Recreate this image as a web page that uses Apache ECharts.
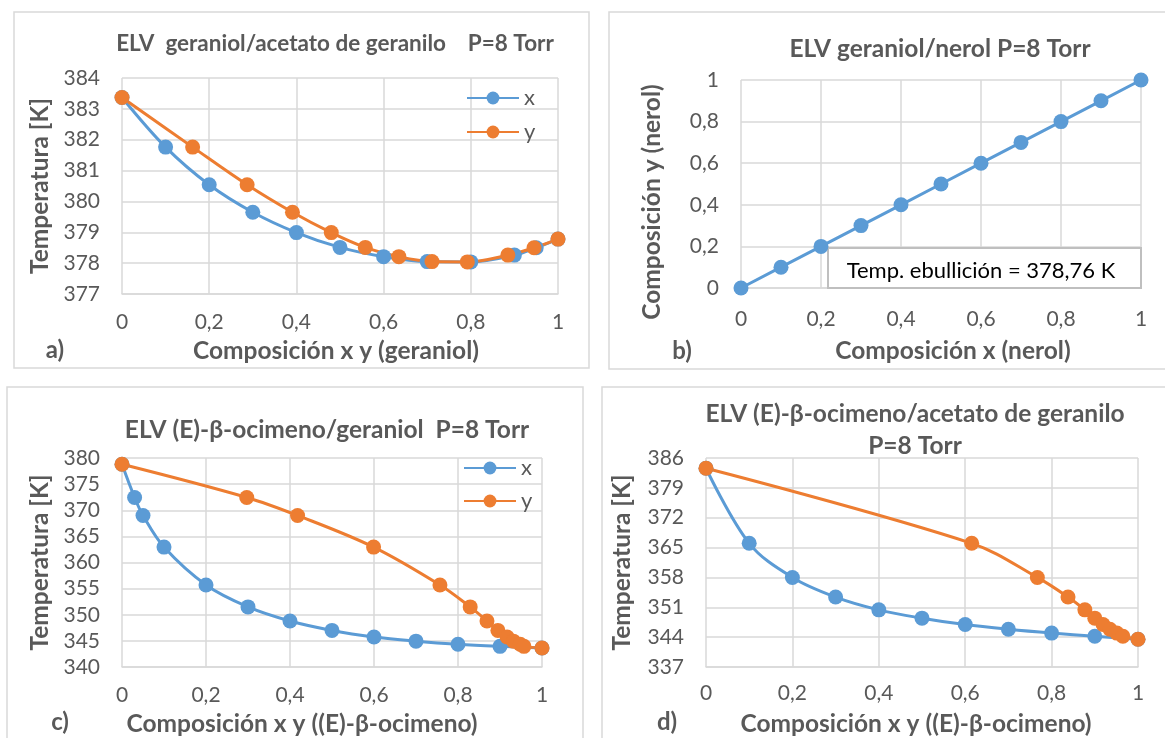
<!DOCTYPE html>
<html><head><meta charset="utf-8">
<script src="https://cdn.jsdelivr.net/npm/echarts@6/dist/echarts.min.js"></script>
<style>html,body{margin:0;padding:0;background:#fff}#c{width:1165px;height:738px}</style>
</head><body><div id="c"></div>
<script>
// ---- Panel a: geraniol / acetato de geranilo ----
const aLiqX = [0, 0.1, 0.2, 0.3, 0.4, 0.5, 0.6, 0.7, 0.8, 0.9, 0.95, 1];
const aVapY = [0, 0.162, 0.287, 0.391, 0.48, 0.558, 0.635, 0.711, 0.792, 0.885, 0.945, 1];
const aTemp = [383.37, 381.76, 380.54, 379.65, 378.99, 378.51, 378.21, 378.05, 378.04, 378.26, 378.5, 378.78];
// ---- Panel b: geraniol / nerol ----
const bLiqX = [0, 0.1, 0.2, 0.3, 0.4, 0.5, 0.6, 0.7, 0.8, 0.9, 1];
const bVapY = [0, 0.1, 0.2, 0.3, 0.4, 0.5, 0.6, 0.7, 0.8, 0.9, 1];
// ---- Panel c: (E)-β-ocimeno / geraniol ----
const cLiqX = [0, 0.03, 0.05, 0.1, 0.2, 0.3, 0.4, 0.5, 0.6, 0.7, 0.8, 0.9, 1];
const cVapY = [0, 0.297, 0.418, 0.599, 0.757, 0.829, 0.869, 0.895, 0.917, 0.932, 0.948, 0.957, 1];
const cTemp = [378.8, 372.45, 369.0, 362.95, 355.7, 351.5, 348.8, 347.0, 345.75, 344.95, 344.35, 343.95, 343.65];
// ---- Panel d: (E)-β-ocimeno / acetato de geranilo ----
const dLiqX = [0, 0.1, 0.2, 0.3, 0.4, 0.5, 0.6, 0.7, 0.8, 0.9, 1];
const dVapY = [0, 0.615, 0.767, 0.838, 0.877, 0.9, 0.919, 0.935, 0.951, 0.965, 1];
const dTemp = [383.6, 366.0, 358.0, 353.4, 350.4, 348.45, 346.95, 345.85, 344.95, 344.2, 343.5];

const titles = [
  'ELV  geraniol/acetato de geranilo    P=8 Torr',
  'ELV geraniol/nerol P=8 Torr',
  'ELV (E)-β-ocimeno/geraniol  P=8 Torr',
  'ELV (E)-β-ocimeno/acetato de geranilo\nP=8 Torr'
];
const xNames = ['Composición x y (geraniol)', 'Composición x (nerol)', 'Composición x y ((E)-β-ocimeno)', 'Composición x y ((E)-β-ocimeno)'];
const yNames = ['Temperatura [K]', 'Composición y (nerol)', 'Temperatura [K]', 'Temperatura [K]'];
const panelTags = ['a)', 'b)', 'c)', 'd)'];
const noteText = 'Temp. ebullición = 378,76 K';

const BLUE = '#5B9BD5', ORANGE = '#ED7D31', TXT = '#595959', GRID = '#D9D9D9';
const FONT = 'Lato, "Open Sans", "Noto Sans", sans-serif';
const comma = v => String(+v.toFixed(2)).replace('.', ',');
const zip = (xs, ys) => xs.map((x, i) => [x, ys[i]]);

const grids = [
  {left: 122, top: 78, width: 436, height: 216},
  {left: 741, top: 80, width: 400, height: 208},
  {left: 122, top: 458, width: 420, height: 215},
  {left: 706, top: 458, width: 432, height: 215}
];
const yRanges = [[377, 384, 1], [0, 1, 0.2], [340, 380, 5], [337, 386, 7]];
const xNameGap = [45, 51, 45, 45];
const xNamePad = [[0, 8, 0, 0], [0, 0, 0, 24], [0, 60, 0, 0], [0, 12, 0, 0]];
const yNameGap = [69, 76, 69, 71];
const yNamePad = [[0, 0, 0, 0], [0, 36, 0, 0], [0, 0, 0, 0], [0, 0, 0, 0]];
const xLabelMargin = [18, 21, 18, 16];

function xAxis(i) {
  return {
    gridIndex: i, type: 'value', min: 0, max: 1, interval: 0.2,
    name: xNames[i], nameLocation: 'middle', nameGap: xNameGap[i],
    nameTextStyle: {color: TXT, fontFamily: FONT, fontWeight: 'bold', fontSize: 24.5, padding: xNamePad[i]},
    axisLine: {show: true, lineStyle: {color: GRID, width: 1.5}},
    axisTick: {show: false},
    axisLabel: {color: TXT, fontFamily: FONT, fontSize: 21, margin: xLabelMargin[i], formatter: comma},
    splitLine: {show: true, lineStyle: {color: GRID, width: 1.5}}
  };
}
function yAxis(i) {
  const r = yRanges[i];
  return {
    gridIndex: i, type: 'value', min: r[0], max: r[1], interval: r[2],
    name: yNames[i], nameLocation: 'middle', nameGap: yNameGap[i],
    nameTextStyle: {color: TXT, fontFamily: FONT, fontWeight: 'bold', fontSize: 24.5, padding: yNamePad[i]},
    axisLine: {show: false}, axisTick: {show: false},
    axisLabel: {color: TXT, fontFamily: FONT, fontSize: 21, margin: 22, formatter: comma},
    splitLine: {show: true, lineStyle: {color: GRID, width: 1.5}}
  };
}
function line(name, idx, data, color, smooth) {
  return {
    name, type: 'line', xAxisIndex: idx, yAxisIndex: idx, data,
    smooth: smooth, symbol: 'circle', symbolSize: 15,
    lineStyle: {color, width: 3}, itemStyle: {color}, color,
    emphasis: {disabled: true}
  };
}

const titleSpec = [[330, 24, 22.5, 30], [935, 28, 24.5, 32], [322, 409, 24.5, 32], [910, 393, 24.5, 32]];
const borders = [[14, 12, 575, 356], [609, 12, 560, 357], [7, 387, 576, 360], [602, 387, 570, 360]];
const tagPos = [[55, 350], [682, 351], [60, 722], [667, 722]];

const option = {
  animation: false,
  backgroundColor: '#fff',
  textStyle: {fontFamily: FONT},
  title: titles.map((t, i) => ({
    text: t, left: titleSpec[i][0], top: titleSpec[i][1], textAlign: 'center',
    textStyle: {color: TXT, fontFamily: FONT, fontWeight: 'bold', fontSize: titleSpec[i][2], lineHeight: titleSpec[i][3]}
  })),
  legend: [
    {left: 461, top: 82, orient: 'vertical', itemGap: 12, itemWidth: 52, itemHeight: 16,
     data: ['x', 'y'], textStyle: {color: TXT, fontFamily: FONT, fontSize: 22}, selectedMode: false},
    {left: 458, top: 452, orient: 'vertical', itemGap: 11, itemWidth: 52, itemHeight: 16,
     data: ['x', 'y'], textStyle: {color: TXT, fontFamily: FONT, fontSize: 22}, selectedMode: false}
  ],
  grid: grids,
  xAxis: [0, 1, 2, 3].map(xAxis),
  yAxis: [0, 1, 2, 3].map(yAxis),
  series: [
    line('x', 0, zip(aLiqX, aTemp), BLUE, 0.35),
    line('y', 0, zip(aVapY, aTemp), ORANGE, 0.35),
    line('nerol', 1, zip(bLiqX, bVapY), BLUE, false),
    line('x', 2, zip(cLiqX, cTemp), BLUE, 0.35),
    line('y', 2, zip(cVapY, cTemp), ORANGE, 0.35),
    line('x', 3, zip(dLiqX, dTemp), BLUE, 0.35),
    line('y', 3, zip(dVapY, dTemp), ORANGE, 0.35)
  ],
  graphic: [
    ...borders.map(b => ({type: 'rect', z: -10, shape: {x: b[0], y: b[1], width: b[2], height: b[3]},
      style: {fill: 'none', stroke: GRID, lineWidth: 1.5}})),
    ...panelTags.map((t, i) => ({type: 'text', x: tagPos[i][0], y: tagPos[i][1],
      style: {text: t, fill: TXT, font: 'bold 24px ' + FONT, textAlign: 'center', textVerticalAlign: 'middle'}})),
    {type: 'rect', z: 1, shape: {x: 828, y: 248, width: 313, height: 40},
      style: {fill: '#fff', stroke: '#BFBFBF', lineWidth: 2}},
    {type: 'text', z: 1, x: 981, y: 271,
      style: {text: noteText, fill: '#000', font: '22px ' + FONT, textAlign: 'center', textVerticalAlign: 'middle'}}
  ]
};
const chart = echarts.init(document.getElementById('c'), null, {renderer: 'canvas'});
chart.setOption(option);
</script></body></html>
